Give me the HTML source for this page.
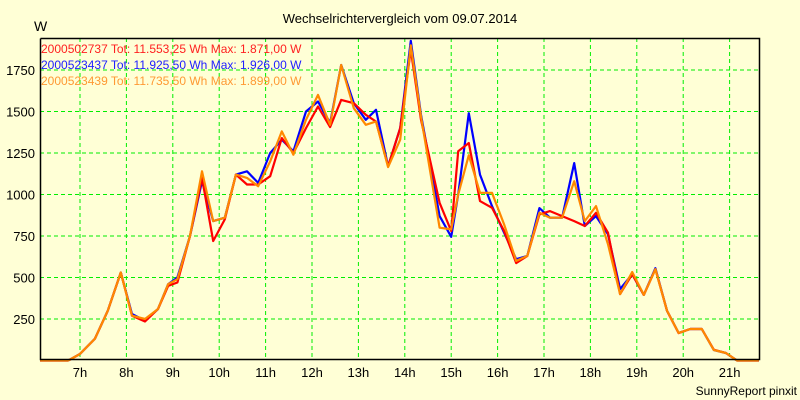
<!DOCTYPE html>
<html><head><meta charset="utf-8"><style>
body{margin:0;background:#ffffd6;}
svg{display:block;font-family:"Liberation Sans",sans-serif;}
</style></head><body>
<svg id="chart" width="800" height="400" viewBox="0 0 800 400">
<rect x="0" y="0" width="800" height="400" fill="#ffffd6"/>
<text x="400" y="23" font-size="13" text-anchor="middle" fill="#000">Wechselrichtervergleich vom 09.07.2014</text>
<text x="34" y="31" font-size="14" fill="#000">W</text>
<g id="grid"></g>
<g id="series"></g>
<path d="M40.5 38.5 V359.5 H759.5 V38.5 H40.5" fill="none" stroke="#000" stroke-width="1.5"/>
<g id="axes"></g>
<g font-size="12">
<text x="41" y="53" fill="#ff2020">2000502737 Tot: 11.553,25 Wh Max: 1.871,00 W</text>
<text x="41" y="69" fill="#2020ff">2000523437 Tot: 11.925,50 Wh Max: 1.926,00 W</text>
<text x="41" y="85" fill="#ff9933">2000523439 Tot: 11.735,50 Wh Max: 1.899,00 W</text>
</g>
<text x="797" y="395" font-size="12" text-anchor="end" fill="#000">SunnyReport pinxit</text>
</svg>
<script>
const times=[6.14,6.74,6.78,7.0,7.32,7.6,7.88,8.12,8.4,8.68,8.9,9.1,9.37,9.63,9.87,10.12,10.36,10.6,10.84,11.1,11.35,11.6,11.87,12.13,12.39,12.63,12.9,13.16,13.38,13.64,13.9,14.13,14.35,14.75,15.0,15.15,15.38,15.62,15.88,16.14,16.4,16.64,16.9,17.13,17.39,17.65,17.88,18.12,18.38,18.64,18.9,19.15,19.4,19.65,19.9,20.15,20.4,20.66,20.92,21.16,21.63];
const redVals=[0,0,5,40,130,300,530,270,235,310,450,470,750,1100,720,850,1120,1060,1060,1110,1340,1250,1400,1530,1406,1570,1550,1480,1440,1170,1400,1871,1450,950,780,1260,1310,960,920,780,587,630,880,900,870,840,810,890,770,400,520,395,550,300,165,190,190,65,45,0,0];
const blueVals=[0,0,5,40,130,300,530,280,240,310,460,500,750,1080,840,860,1120,1140,1070,1250,1330,1260,1500,1560,1430,1780,1550,1450,1510,1170,1400,1926,1480,870,745,1000,1490,1120,930,770,610,630,918,860,860,1189,810,870,760,430,520,395,556,300,166,190,190,63,45,0,0];
const orangeVals=[0,0,5,40,130,300,530,270,250,310,460,490,750,1140,840,860,1120,1100,1050,1200,1380,1240,1450,1600,1420,1780,1520,1420,1440,1165,1330,1899,1470,800,790,1000,1237,1010,1010,820,600,630,890,860,860,1080,840,930,700,400,533,395,550,300,166,190,190,63,45,0,0];
const yTicks=[250,500,750,1000,1250,1500,1750];
const xTicks=[7,8,9,10,11,12,13,14,15,16,17,18,19,20,21];
const xLabels=["7h","8h","9h","10h","11h","12h","13h","14h","15h","16h","17h","18h","19h","20h","21h"];
const NS="http://www.w3.org/2000/svg";
const X=h=>80+(h-7)*46.4;
const Y=v=>360.5-v*0.166;
const grid=document.getElementById('grid'),axes=document.getElementById('axes'),ser=document.getElementById('series');
function mk(tag,attrs,parent){const e=document.createElementNS(NS,tag);for(const k in attrs)e.setAttribute(k,attrs[k]);parent.appendChild(e);return e;}
yTicks.forEach(v=>{
 const l=mk('line',{x1:40,x2:759,y1:Y(v),y2:Y(v),stroke:'#00ee00','stroke-width':1,'stroke-dasharray':'4,3'},grid);
 
 
 const t=mk('text',{x:35,y:Y(v)+5,'font-size':13,'text-anchor':'end',fill:'#000'},axes);
 t.textContent=v;
 
 
});
xTicks.forEach((h,i)=>{
 const l=mk('line',{x1:X(h),x2:X(h),y1:38,y2:359,stroke:'#00ee00','stroke-width':1,'stroke-dasharray':'4,3'},grid);
 
 
 const t=mk('text',{x:X(h),y:377,'font-size':13,'text-anchor':'middle',fill:'#000'},axes);
 t.textContent=xLabels[i];
 
 
});
function line(vals,color,name){
 const d=vals.map((v,i)=>(i?'L':'M')+X(times[i]).toFixed(1)+' '+Y(v).toFixed(1)).join(' ');
 const p=mk('path',{d:d,fill:'none',stroke:color,'stroke-width':2.2,'stroke-linejoin':'round'},ser);
 
 
}
line(blueVals,'#0000ff','series-2000523437');
line(redVals,'#ff0000','series-2000502737');
line(orangeVals,'#ff8800','series-2000523439');
</script>
</body></html>
